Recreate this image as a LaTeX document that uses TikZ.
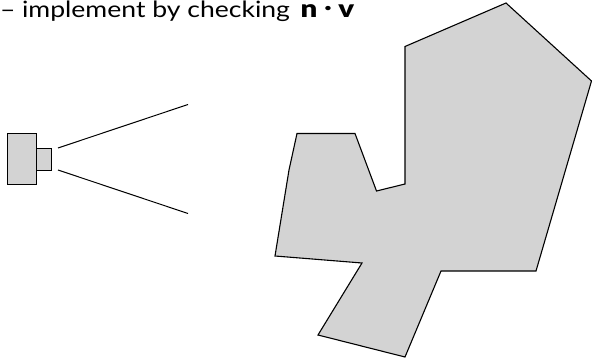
\documentclass[tikz,border=0pt]{standalone}
\usepackage{fontspec}
\setmainfont[FakeStretch=1.18]{Lato}
\newfontfamily\heavyfont[FakeStretch=1.2]{Lato Black}
\definecolor{fillgray}{HTML}{D3D3D3}
\tikzset{shapeline/.style={draw=black,fill=fillgray,line width=1.1pt,line join=miter},
 camline/.style={shapeline,line width=0.9pt},
 rayline/.style={draw=black,line width=1pt}}
\begin{document}
\begin{tikzpicture}[x=1pt,y=-1pt]
\useasboundingbox (0,0) rectangle (592,361);
\node[anchor=base west,inner sep=0pt,font=\fontsize{22.5}{26}\selectfont] (title) at (0,18) {–\hspace{6.5pt}implement by checking\hspace{4pt} {\heavyfont\fontsize{24.5}{28}\selectfont n\hspace{7pt}\raisebox{3pt}{\fontsize{20}{24}\selectfont ·}\hspace{7pt}v}};
\draw[shapeline] (297,133.5)--(355,133.5)--(376.5,191)--(405,184)--(405,46.5)--(506,3)--(591.5,81)--(536,271)--(441,271)--(405,357)--(318,335)--(362,263)--(275,256)--(289,170)--cycle;
\draw[camline] (7.5,133.5) rectangle (36.5,184);
\draw[camline] (36.5,148) rectangle (51,170);
\coordinate (r1) at (58,148); \coordinate (r2) at (188,104.5);
\coordinate (r3) at (58,170); \coordinate (r4) at (188,213.5);
\draw[rayline] (r1)--(r2);
\draw[rayline] (r3)--(r4);
\end{tikzpicture}
\end{document}
